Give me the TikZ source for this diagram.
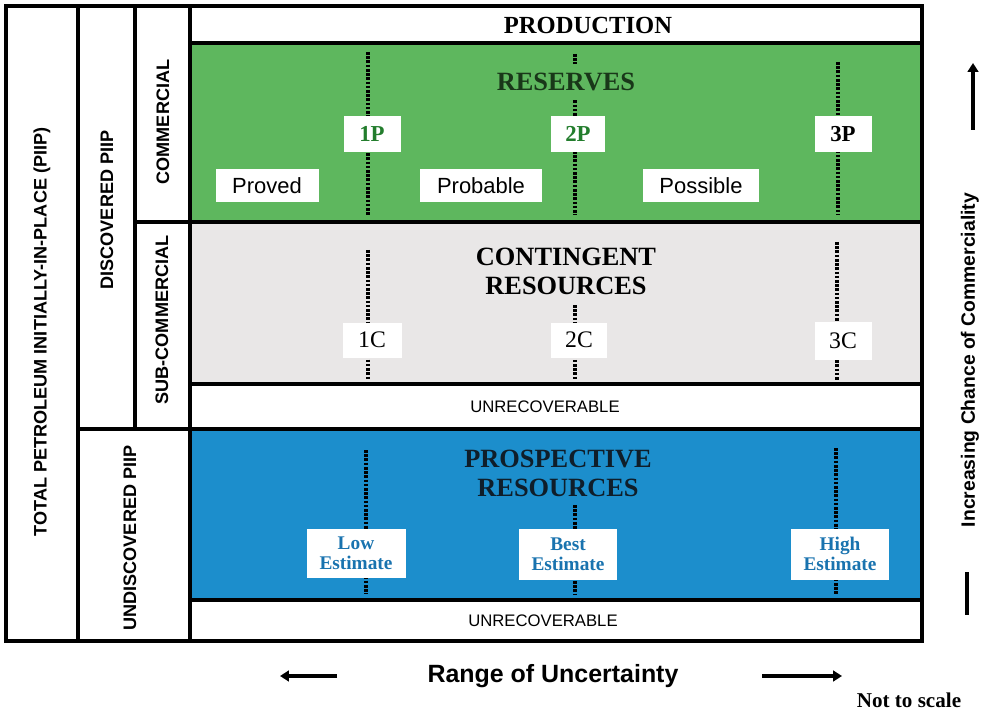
\documentclass[tikz,border=0pt]{standalone}
\usepackage{fontspec}
\setmainfont{Liberation Serif}
\setsansfont{Liberation Sans}
\usetikzlibrary{arrows.meta}

\definecolor{resgreen}{RGB}{94,183,94}
\definecolor{congray}{RGB}{233,231,231}
\definecolor{prosblue}{RGB}{28,142,204}
\definecolor{restext}{RGB}{25,55,25}
\definecolor{ptext}{RGB}{35,125,45}
\definecolor{prostext}{RGB}{15,30,42}
\definecolor{esttext}{RGB}{25,115,175}

\tikzset{
  frame/.style={line width=1.8pt},
  tick/.style={line width=1.9pt, dash pattern=on 1.5pt off 0.9pt},
  boxsize/.style 2 args={minimum width=#1*0.02cm, minimum height=#2*0.02cm},
  tagbox/.style={fill=white, inner sep=0pt},
  title/.style={font=\fontsize{15}{16.5}\selectfont\bfseries, align=center},
  sidelabel/.style={font=\sffamily\fontsize{10.3}{10.5}\selectfont\bfseries, rotate=90},
  bigarrow/.style={line width=2.3pt, -{Triangle[length=5pt,width=6pt]}},
}

\begin{document}
\begin{tikzpicture}[x=0.02cm, y=-0.02cm]
   \useasboundingbox (0,0) rectangle (985,713);

   % bands
   \filldraw[frame, fill=white] (190,6) rectangle (922,43);
   \filldraw[frame, fill=resgreen] (190,43) rectangle (922,222);
   \filldraw[frame, fill=congray] (190,222) rectangle (922,384);
   \filldraw[frame, fill=white] (190,384) rectangle (922,429);
   \filldraw[frame, fill=prosblue] (190,429) rectangle (922,600);
   \filldraw[frame, fill=white] (190,600) rectangle (922,641);

   % left columns
   \draw[frame] (6,6) rectangle (922,641);
   \draw[frame] (78,6) -- (78,641);
   \draw[frame] (135,6) -- (135,429);
   \draw[frame] (78,429) -- (190,429);
   \draw[frame] (135,222) -- (190,222);

   % dotted markers
   \foreach \n/\x/\ya/\yb in {p1/368/52/215, p2/575/54/215, p3/838/62/215,
                              c1/368/250/380, c2/575/305/380, c3/837/242/380,
                              e1/366/450/594, e2/575/505/594, e3/836/448/594}
     \draw[tick] (\x,\ya) coordinate (\n top) -- (\x,\yb) coordinate (\n bot);

   % titles
   \node[title] (production) at (588,25) {\fontsize{14}{15}\selectfont PRODUCTION};
   \node[title, text=restext, fill=resgreen, inner xsep=2pt, inner ysep=5pt] (reserves) at (566,82) {RESERVES};
   \node[title] (contingent) at (566,271) {CONTINGENT\\RESOURCES};
   \node[title, text=prostext] (prospective) at (558,473) {PROSPECTIVE\\RESOURCES};
   \node[font=\sffamily\fontsize{9.5}{10}\selectfont] (unrec1) at (545,407) {UNRECOVERABLE};
   \node[font=\sffamily\fontsize{9.5}{10}\selectfont] (unrec2) at (543,621) {UNRECOVERABLE};

   % reserve classes
   \node[tagbox, boxsize={103}{33}, font=\sffamily\fontsize{12.5}{13}\selectfont] (proved) at (267,186) {Proved};
   \node[tagbox, boxsize={122}{33}, font=\sffamily\fontsize{12.5}{13}\selectfont] (probable) at (481,186) {Probable};
   \node[tagbox, boxsize={116}{33}, font=\sffamily\fontsize{12.5}{13}\selectfont] (possible) at (701,186) {Possible};

   % P, C and estimate tags
   \node[tagbox, boxsize={57}{36}, font=\fontsize{13}{14}\selectfont\bfseries, text=ptext] (tag1p) at (372,134) {1P};
   \node[tagbox, boxsize={54}{36}, font=\fontsize{13}{14}\selectfont\bfseries, text=ptext] (tag2p) at (578,134) {2P};
   \node[tagbox, boxsize={57}{36}, font=\fontsize{13}{14}\selectfont\bfseries] (tag3p) at (843,134) {3P};
   \node[tagbox, boxsize={59}{35}, font=\fontsize{13.5}{14}\selectfont] (tag1c) at (372,340) {1C};
   \node[tagbox, boxsize={56}{35}, font=\fontsize{13.5}{14}\selectfont] (tag2c) at (579,340) {2C};
   \node[tagbox, boxsize={57}{38}, font=\fontsize{13.5}{14}\selectfont] (tag3c) at (843,341) {3C};
   \node[tagbox, boxsize={99}{49}, align=center, text=esttext, font=\fontsize{11}{11.5}\selectfont\bfseries] (low) at (356,553) {Low\\Estimate};
   \node[tagbox, boxsize={98}{51}, align=center, text=esttext, font=\fontsize{11}{11.5}\selectfont\bfseries] (best) at (568,554) {Best\\Estimate};
   \node[tagbox, boxsize={98}{51}, align=center, text=esttext, font=\fontsize{11}{11.5}\selectfont\bfseries] (high) at (840,554) {High\\Estimate};

   % side labels
   \node[sidelabel] (total) at (42,332) {TOTAL PETROLEUM INITIALLY-IN-PLACE (PIIP)};
   \node[sidelabel] (discovered) at (107,210) {DISCOVERED PIIP};
   \node[sidelabel] (commercial) at (163,122) {COMMERCIAL};
   \node[sidelabel] (subcommercial) at (162,320) {SUB-COMMERCIAL};
   \node[sidelabel] (undiscovered) at (130,538) {UNDISCOVERED PIIP};

   % axes
   \node[font=\sffamily\fontsize{11}{12}\selectfont\bfseries, rotate=90] (chance) at (970,360) {Increasing Chance of Commerciality};
   \coordinate (chancetip) at (973,63);
   \coordinate (chancetail) at (973,130);
   \coordinate (chancebara) at (967,572);
   \coordinate (chancebarb) at (967,615);
   \draw[bigarrow] (chancetail) -- (chancetip);
   \draw[line width=2.3pt] (chancebara) -- (chancebarb);

   \node[font=\sffamily\fontsize{14.2}{15}\selectfont\bfseries] (range) at (553,676) {Range of Uncertainty};
   \coordinate (rangeleft) at (280,676);
   \coordinate (rangelefttail) at (337,676);
   \coordinate (rangeright) at (842,676);
   \coordinate (rangerighttail) at (762,676);
   \draw[bigarrow] (rangelefttail) -- (rangeleft);
   \draw[bigarrow] (rangerighttail) -- (rangeright);

   \node[font=\fontsize{12}{13}\selectfont\bfseries] (scale) at (909,700) {Not to scale};
\end{tikzpicture}
\end{document}
